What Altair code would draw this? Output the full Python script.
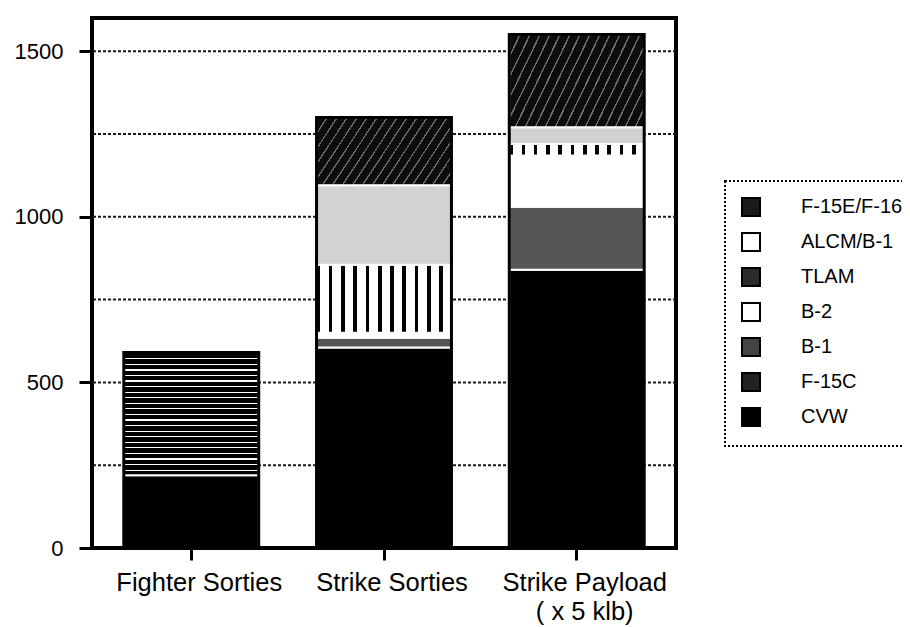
import altair as alt
import pandas as pd

# ---------------- data ----------------
categories = ["Fighter Sorties", "Strike Sorties", "Strike Payload\n( x 5 klb)"]
# legend order (top to bottom)
series = ["F-15E/F-16", "ALCM/B-1", "TLAM", "B-2", "B-1", "F-15C", "CVW"]
# stacking order (bottom to top)
stack_order = ["CVW", "F-15C", "B-1", "B-2", "TLAM", "ALCM/B-1", "F-15E/F-16"]

cvw = [220, 605, 840]
f15c = [370, 0, 0]
b1 = [0, 30, 190]
b2 = [0, 15, 155]
tlam = [0, 205, 35]
alcm_b1 = [0, 240, 50]
f15e_f16 = [0, 205, 280]

grid_values = [250, 500, 750, 1000, 1250, 1500]
y_tick_values = [0, 500, 1000, 1500]

values_by_series = {
    "CVW": cvw, "F-15C": f15c, "B-1": b1, "B-2": b2,
    "TLAM": tlam, "ALCM/B-1": alcm_b1, "F-15E/F-16": f15e_f16,
}
rows = []
for s in stack_order:
    for c, v in zip(categories, values_by_series[s]):
        if v > 0:
            rows.append({"category": c, "series": s, "value": v,
                         "idx": stack_order.index(s)})
df = pd.DataFrame(rows)
grid_df = pd.DataFrame({"v": grid_values})


# ---------------- pattern fills (gradients with hard stops) ----------------
def stripes(n, c1, c2, frac, x2, y2):
    stops = []
    for i in range(n):
        a = i / n
        b = (i + frac) / n
        e = (i + 1) / n
        stops += [{"offset": a, "color": c1}, {"offset": b, "color": c1},
                  {"offset": b, "color": c2}, {"offset": e, "color": c2}]
    return {"gradient": "linear", "x1": 0, "y1": 0, "x2": x2, "y2": y2,
            "stops": stops}


pat_f15c = stripes(22, "#ffffff", "#000000", 0.22, 0, 1)
pat_tlam = stripes(11, "#000000", "#ffffff", 0.3, 1, 0)
pat_f15e = stripes(18, "#6a6a6a", "#0d0d0d", 0.16, 1.2, 0.4)

legend_colors = ["#1a1a1a", "#ffffff", "#2a2a2a", "#ffffff", "#444444", "#222222", "#000000"]

FONT = "Liberation Sans"
y_scale = alt.Scale(domain=[0, 1600], nice=False, zero=True)
x_scale = alt.Scale(paddingInner=0.3, paddingOuter=0.165)

y_axis = alt.Axis(title=None, values=y_tick_values, format="d", tickSize=13,
                  tickWidth=3, tickColor="black", labelFontSize=22,
                  labelFont=FONT, labelColor="black", labelPadding=16,
                  domain=False, grid=False)
x_axis = alt.Axis(title=None, labelAngle=0, tickSize=12, tickWidth=3,
                  tickColor="black", labelFontSize=25.5, labelFont=FONT,
                  labelColor="black", labelPadding=10, labelOffset=8,
                  labelLineHeight=29, domain=False,
                  labelExpr="split(datum.label, '\\n')")

grid = alt.Chart(grid_df).mark_rule(
    strokeDash=[3, 2], strokeWidth=2, color="#1a1a1a"
).encode(y=alt.Y("v:Q", scale=y_scale, axis=y_axis))

segments = alt.Chart(df).mark_bar(stroke="white", strokeWidth=2).encode(
    x=alt.X("category:N", sort=categories, scale=x_scale, axis=x_axis),
    y=alt.Y("value:Q", stack="zero", scale=y_scale, axis=y_axis),
    fill=alt.Fill(
        "series:N",
        scale=alt.Scale(domain=series, range=legend_colors),
        legend=alt.Legend(title=None, orient="none", legendX=633, legendY=163,
                          padding=16, rowPadding=9, labelOffset=40,
                          symbolType="square", symbolSize=324,
                          symbolStrokeColor="black", symbolStrokeWidth=2,
                          labelFontSize=20, labelFont=FONT, labelColor="black",
                          strokeColor="black"),
        condition=[
            {"test": "datum.series === 'F-15C'", "value": pat_f15c},
            {"test": "datum.series === 'TLAM'", "value": pat_tlam},
            {"test": "datum.series === 'F-15E/F-16'", "value": pat_f15e},
            {"test": "datum.series === 'ALCM/B-1'", "value": "#d2d2d2"},
            {"test": "datum.series === 'B-1'", "value": "#565656"},
        ],
    ),
    order=alt.Order("idx:Q", sort="ascending"),
)

outline = alt.Chart(df).mark_bar(fillOpacity=0, stroke="black", strokeWidth=3).encode(
    x=alt.X("category:N", sort=categories, scale=x_scale, axis=x_axis),
    y=alt.Y("sum(value):Q", scale=y_scale, axis=y_axis),
)

chart = alt.layer(grid, segments, outline).properties(
    width=584, height=530,
    background="white",
    autosize=alt.AutoSizeParams(type="none"),
    padding={"left": 84, "top": 10, "right": 226, "bottom": 77},
).configure_view(
    stroke="black", strokeWidth=4
).configure_legend(
    strokeDash=[2, 2], strokeWidth=2
)

chart.save("out.html", embed_options={"renderer": "svg", "actions": False})
